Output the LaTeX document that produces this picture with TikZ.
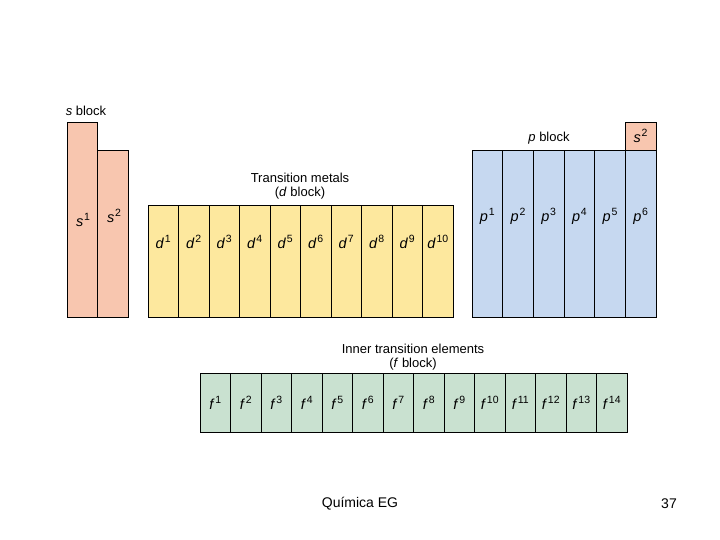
\documentclass[tikz,border=0pt]{standalone}
\usepackage{fontspec}
\setmainfont{Liberation Sans}
\usetikzlibrary{calc}
\definecolor{sfill}{HTML}{F8C6AF}
\definecolor{dfill}{HTML}{FDE89E}
\definecolor{pfill}{HTML}{C6D8F0}
\definecolor{ffill}{HTML}{C9E1D0}
\tikzset{
  cell/.style={draw=black, line width=0.8pt, anchor=north west, inner sep=0pt, outer sep=0pt},
  lab/.style={font=\fontsize{14.5}{17}\selectfont, inner sep=0pt},
  title/.style={font=\fontsize{13}{14.5}\selectfont, align=center, inner sep=0pt},
}
\newcommand{\el}[2]{{\itshape #1\/}\kern0.8pt\raisebox{0.42em}{\fontsize{10.5}{11}\selectfont #2}}
\begin{document}
\begin{tikzpicture}[x=1pt,y=-1pt]
\useasboundingbox (0,0) rectangle (720,540);
% s block
\node[cell, fill=sfill, minimum width=30pt, minimum height=195pt] (s1) at (67,122) {};
\node[cell, fill=sfill, minimum width=31pt, minimum height=167pt] (s2) at (97,150) {};
\node[lab] (s1l) at (83,220) {\el{s}{1}};
\node[lab] (s2l) at (114,216) {\el{s}{2}};
\node[title] (sblk) at (86,111) {\textit{s} block};
% d block
\foreach \i in {1,...,10}{
  \pgfmathsetmacro{\xx}{148+(\i-1)*30.5}
  \node[cell, fill=dfill, minimum width=30.5pt, minimum height=112pt] (d\i) at (\xx,205) {};
  \node[lab] (d\i l) at ($(d\i.center)+(0,-19)$) {\el{d}{\i}};
}
\node[title] (dblk) at (300,186) {Transition metals\\(\textit{d} block)};
% p block
\foreach \i in {1,...,6}{
  \pgfmathsetmacro{\xx}{472+(\i-1)*30.67}
  \node[cell, fill=pfill, minimum width=30.67pt, minimum height=167pt] (p\i) at (\xx,150) {};
  \node[lab] (p\i l) at ($(p\i.center)+(0,-17)$) {\el{p}{\i}};
}
\node[cell, fill=sfill, minimum width=30.67pt, minimum height=28pt] (s2p) at (625.3,122) {};
\node[lab] (s2pl) at ($(s2p.center)+(0,0)$) {\el{s}{2}};
\node[title] (pblk) at (549,138) {\textit{p} block};
% f block
\foreach \i in {1,...,14}{
  \pgfmathsetmacro{\xx}{200+(\i-1)*30.5}
  \node[cell, fill=ffill, minimum width=30.5pt, minimum height=59pt] (f\i) at (\xx,373) {};
  \node[lab] (f\i l) at ($(f\i.center)+(0,0)$) {\el{f}{\i}};
}
\node[title] (fblk) at (413,357) {Inner transition elements\\(\textit{f} block)};
% footer
\node[lab, font=\fontsize{14}{16}\selectfont] (foot) at (360,504) {Química EG};
\node[lab, font=\fontsize{14}{16}\selectfont] (page) at (669,504) {37};
\end{tikzpicture}
\end{document}
